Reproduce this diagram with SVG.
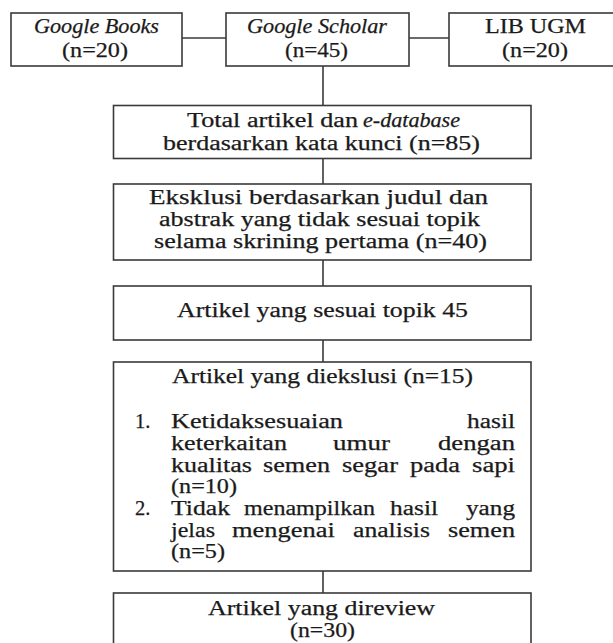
<svg xmlns="http://www.w3.org/2000/svg" width="613" height="643" viewBox="0 0 613 643">
<style>
rect.box{fill:#fff;stroke:#3a3a3a;stroke-width:1.6}
.c line{stroke:#3a3a3a;stroke-width:1.6}
text{font-family:"Liberation Serif","Times New Roman",serif;font-size:20.5px;fill:#1a1a1a;stroke:#1a1a1a;stroke-width:0.25}
.i{font-style:italic}
</style>
<rect width="613" height="643" fill="#fff"/>
<g class="c" id="connectors">
<line x1="182" y1="38" x2="226" y2="38"/>
<line x1="409" y1="38" x2="449" y2="38"/>
<line x1="323" y1="66" x2="323" y2="105.5"/>
<line x1="323" y1="158.5" x2="323" y2="184"/>
<line x1="323" y1="260" x2="323" y2="286"/>
<line x1="323" y1="340" x2="323" y2="362"/>
<line x1="323" y1="571" x2="323" y2="593"/>
</g>
<g id="google-books">
<rect class="box" x="11" y="13" width="171" height="53"/>
<text class="i" x="34" y="33" textLength="125" lengthAdjust="spacingAndGlyphs">Google Books</text>
<text x="62" y="57" textLength="66" lengthAdjust="spacingAndGlyphs">(n=20)</text>
</g>
<g id="google-scholar">
<rect class="box" x="226" y="13" width="183" height="53"/>
<text class="i" x="247" y="33" textLength="140" lengthAdjust="spacingAndGlyphs">Google Scholar</text>
<text x="285" y="57" textLength="63" lengthAdjust="spacingAndGlyphs">(n=45)</text>
</g>
<g id="lib-ugm">
<rect class="box" x="449" y="13" width="172" height="53"/>
<text x="485" y="33" textLength="101" lengthAdjust="spacingAndGlyphs">LIB UGM</text>
<text x="502" y="57" textLength="66" lengthAdjust="spacingAndGlyphs">(n=20)</text>
</g>
<g id="total">
<rect class="box" x="113.5" y="105.5" width="417.5" height="53"/>
<text x="187" y="127" textLength="171" lengthAdjust="spacingAndGlyphs">Total artikel dan</text>
<text class="i" x="363" y="127" textLength="97" lengthAdjust="spacingAndGlyphs">e-database</text>
<text x="163" y="150" textLength="317" lengthAdjust="spacingAndGlyphs">berdasarkan kata kunci (n=85)</text>
</g>
<g id="eksklusi">
<rect class="box" x="113.5" y="184" width="417.5" height="76"/>
<text x="149" y="204" textLength="339" lengthAdjust="spacingAndGlyphs">Eksklusi berdasarkan judul dan</text>
<text x="159" y="226" textLength="321" lengthAdjust="spacingAndGlyphs">abstrak yang tidak sesuai topik</text>
<text x="154" y="248" textLength="333" lengthAdjust="spacingAndGlyphs">selama skrining pertama (n=40)</text>
</g>
<g id="sesuai">
<rect class="box" x="113.5" y="286" width="417.5" height="54"/>
<text x="177" y="317" textLength="291" lengthAdjust="spacingAndGlyphs">Artikel yang sesuai topik 45</text>
</g>
<g id="diekslusi">
<rect class="box" x="113.5" y="362" width="417.5" height="209"/>
<text x="172" y="383" textLength="301" lengthAdjust="spacingAndGlyphs">Artikel yang diekslusi (n=15)</text>
<text x="135" y="428">1.</text>
<text x="171" y="428" textLength="172" lengthAdjust="spacingAndGlyphs">Ketidaksesuaian</text>
<text x="467" y="428" textLength="48" lengthAdjust="spacingAndGlyphs">hasil</text>
<text x="171" y="450" textLength="116" lengthAdjust="spacingAndGlyphs">keterkaitan</text>
<text x="333" y="450" textLength="57" lengthAdjust="spacingAndGlyphs">umur</text>
<text x="438" y="450" textLength="77" lengthAdjust="spacingAndGlyphs">dengan</text>
<text x="171" y="472" textLength="81" lengthAdjust="spacingAndGlyphs">kualitas</text>
<text x="263" y="472" textLength="67" lengthAdjust="spacingAndGlyphs">semen</text>
<text x="342" y="472" textLength="56" lengthAdjust="spacingAndGlyphs">segar</text>
<text x="410" y="472" textLength="50" lengthAdjust="spacingAndGlyphs">pada</text>
<text x="472" y="472" textLength="43" lengthAdjust="spacingAndGlyphs">sapi</text>
<text x="171" y="493" textLength="66" lengthAdjust="spacingAndGlyphs">(n=10)</text>
<text x="135" y="515">2.</text>
<text x="171" y="515" textLength="59" lengthAdjust="spacingAndGlyphs">Tidak</text>
<text x="244" y="515" textLength="131" lengthAdjust="spacingAndGlyphs">menampilkan</text>
<text x="390" y="515" textLength="48" lengthAdjust="spacingAndGlyphs">hasil</text>
<text x="466" y="515" textLength="49" lengthAdjust="spacingAndGlyphs">yang</text>
<text x="171" y="537" textLength="44" lengthAdjust="spacingAndGlyphs">jelas</text>
<text x="232" y="537" textLength="103" lengthAdjust="spacingAndGlyphs">mengenai</text>
<text x="353" y="537" textLength="77" lengthAdjust="spacingAndGlyphs">analisis</text>
<text x="448" y="537" textLength="67" lengthAdjust="spacingAndGlyphs">semen</text>
<text x="171" y="558" textLength="54" lengthAdjust="spacingAndGlyphs">(n=5)</text>
</g>
<g id="direview">
<rect class="box" x="113.5" y="593" width="417.5" height="60"/>
<text x="208" y="615" textLength="227" lengthAdjust="spacingAndGlyphs">Artikel yang direview</text>
<text x="290" y="637" textLength="65" lengthAdjust="spacingAndGlyphs">(n=30)</text>
</g>
</svg>
